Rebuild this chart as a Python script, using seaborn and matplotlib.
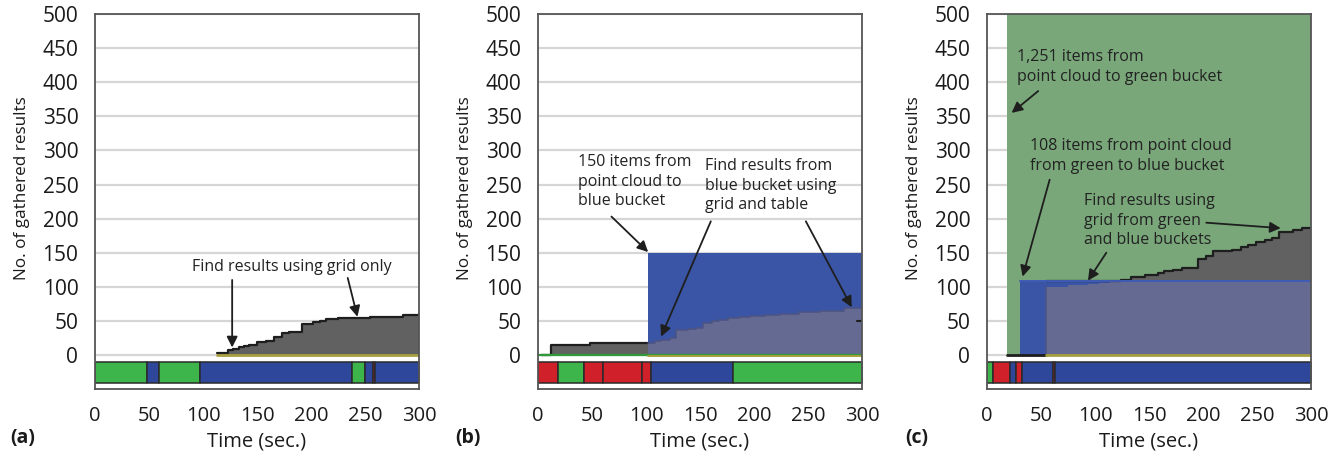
import numpy as np
import pandas as pd
import matplotlib
matplotlib.use('Agg')
import matplotlib.pyplot as plt
import seaborn as sns

# axis ticks
x_ticks = [0, 50, 100, 150, 200, 250, 300]
y_ticks = [0, 50, 100, 150, 200, 250, 300, 350, 400, 450, 500]

# (a) results found with the grid only
a_t = [113, 123, 128, 133, 138, 143, 150, 158, 166, 173, 180, 186, 192, 196, 202, 208, 214, 225, 240, 255, 270, 285, 300]
a_v = [2.5, 7, 9, 11, 13, 15, 19, 20, 26, 32, 33, 34, 45, 46, 48, 50, 53, 54, 54, 55, 56, 58, 60]

# (b) results before the blue bucket, blue bucket, results from blue bucket
b_gray_t = [3, 12, 48, 102]
b_gray_v = [0, 14.5, 18, 18]
b_blue_start = 102
b_blue_items = 150
b_t = [102, 108, 114, 122, 128, 139, 146, 153, 161, 168, 176, 186, 196, 210, 224, 242, 261, 283, 300]
b_v = [18, 20, 22, 24.5, 36, 37.7, 40, 47.5, 50, 52, 54, 55.5, 57, 58.5, 60, 62.5, 65, 68.5, 68.5]

# (c) green bucket, blue bucket, results from both
c_green_start = 18.7
c_green_items = 500
c_blue_start = 30.5
c_blue_items = 108.5
c_t = [55, 75, 93.5, 104, 113.6, 124, 133.6, 146, 158, 164, 172, 181, 195, 203, 209, 218, 227,
       235, 242, 249, 257, 264, 270.5, 283, 292, 300]
c_v = [100, 102, 104.5, 106, 108, 110, 115, 117, 120, 122.5, 125, 127.5, 140.5, 144.5, 152, 153,
       154.5, 159, 162, 165, 168, 171.5, 180, 183, 186, 186]

# state bar under each panel: segment start, end, colour key
a_seg_start = [0, 48.5, 59.5, 97.5, 238, 250, 257, 259]
a_seg_end = [48.5, 59.5, 97.5, 238, 250, 257, 259, 300]
a_seg_col = ['g', 'b', 'g', 'b', 'g', 'b', 'r', 'b']
b_seg_start = [0, 18.5, 43, 60, 96, 105, 181]
b_seg_end = [18.5, 43, 60, 96, 105, 181, 300]
b_seg_col = ['r', 'g', 'r', 'r', 'r', 'b', 'g']
c_seg_start = [0, 6, 21.5, 26.5, 32, 61, 63]
c_seg_end = [6, 21.5, 26.5, 32, 61, 63, 300]
c_seg_col = ['g', 'r', 'b', 'r', 'b', 'r', 'b']

bar_colors = {'g': '#3db54a', 'b': '#2f479b', 'r': '#d0202a'}
GRAY = '#616161'
BLUE = '#3a55a5'
PURPLE = '#656a92'
GREEN = '#79a77a'
OLIVE = '#a8a040'
EDGE = '#1e1e1e'

sns.set_theme(style='white')
plt.rcParams['font.family'] = ['Open Sans', 'DejaVu Sans']

fig = plt.figure(figsize=(13.41, 4.58), dpi=100)
W, H = 1341, 458
lefts = [95, 538, 987]
width = 324
top_px, bot_px = 14, 389
y0_px = 355
scale = (y0_px - top_px) / 500.0
ymin = -(bot_px - y0_px) / scale


def set_labels(ax):
    ax.set_xlabel('Time (sec.)', fontsize=14.5, color='#1a1a1a', labelpad=4)
    ax.set_ylabel('No. of gathered results', fontsize=12.3, color='#1a1a1a')
    # label centred on the 0-500 range, not on the whole frame
    ax.yaxis.set_label_coords(-65 / width, (bot_px - 188) / (bot_px - top_px))


axes = []
for lx in lefts:
    ax = fig.add_axes([lx / W, 1 - bot_px / H, width / W, (bot_px - top_px) / H])
    ax.set_xlim(0, 300)
    ax.set_ylim(ymin, 500)
    ax.set_xticks(x_ticks)
    ax.set_yticks(y_ticks)
    ax.grid(axis='y', color='#d6d6d6', lw=1.6, zorder=0)
    ax.set_axisbelow(True)
    ax.tick_params(axis='x', direction='in', length=6, width=1.5, color='#222222',
                   labelsize=14.5, pad=12, labelcolor='#1a1a1a')
    ax.tick_params(axis='y', length=0, labelsize=15, pad=12, labelcolor='#1a1a1a')
    for s in ax.spines.values():
        s.set_color('#555555')
        s.set_linewidth(1.3)
        s.set_zorder(6)
    axes.append(ax)


def draw_bar(ax, starts, ends, cols):
    for s, e, c in zip(starts, ends, cols):
        ax.broken_barh([(s, e - s)], (-41.5, 31), facecolors=bar_colors[c],
                       edgecolor='#2a2a2a', lw=1.1, zorder=4)


def step_edge(ax, t, v, color, lw=1.6):
    df = pd.DataFrame({'t': t, 'v': v})
    sns.lineplot(data=df, x='t', y='v', drawstyle='steps-post', color=color, lw=lw,
                 ax=ax, zorder=5, legend=False)


arrow = dict(arrowstyle='-|>', color=EDGE, lw=1.3, mutation_scale=16, shrinkA=0, shrinkB=0)
note = dict(fontsize=11.5, color='#222222', linespacing=1.3)

# ---- (a)
ax = axes[0]
ax.fill_between(a_t, 0, a_v, step='post', color=GRAY, lw=0, zorder=2)
step_edge(ax, a_t, a_v, EDGE)
ax.plot([a_t[0], 300], [0, 0], color=OLIVE, lw=2, zorder=5)
draw_bar(ax, a_seg_start, a_seg_end, a_seg_col)
ax.text(182, 129, 'Find results using grid only', ha='center', va='center', **note)
ax.annotate('', xy=(127, 11), xytext=(127, 110), arrowprops=arrow)
ax.annotate('', xy=(243, 56), xytext=(234, 113), arrowprops=arrow)

# ---- (b)
ax = axes[1]
ax.fill_between(b_gray_t, 0, b_gray_v, step='post', color=GRAY, lw=0, zorder=2)
step_edge(ax, b_gray_t, b_gray_v, EDGE)
ax.fill_between([b_blue_start, 300], 0, b_blue_items, color=BLUE, lw=0, zorder=2)
ax.fill_between(b_t, 0, b_v, step='post', color=PURPLE, lw=0, zorder=3)
step_edge(ax, b_t, b_v, '#4d5585', lw=1.2)
ax.plot([0, 300], [0, 0], color='#2f9a3a', lw=1.6, zorder=5)
ax.plot([b_blue_start, 300], [-1.5, -1.5], color=OLIVE, lw=1.4, zorder=5)
ax.plot([295, 300], [50, 50], color=EDGE, lw=1.5, zorder=5)
draw_bar(ax, b_seg_start, b_seg_end, b_seg_col)
ax.text(37, 254, '150 items from\npoint cloud to\nblue bucket', ha='left', va='center', **note)
ax.text(155, 248, 'Find results from\nblue bucket using\ngrid and table', ha='left', va='center', **note)
ax.annotate('', xy=(102, 151), xytext=(68, 203), arrowprops=arrow)
ax.annotate('', xy=(114, 27), xytext=(160, 196), arrowprops=arrow)
ax.annotate('', xy=(290.5, 70), xytext=(248, 196), arrowprops=arrow)

# ---- (c)
ax = axes[2]
ax.fill_between([c_green_start, 300], 0, c_green_items, color=GREEN, lw=0, zorder=2)
ax.fill_between([c_blue_start, 300], 0, c_blue_items, color=BLUE, lw=0, zorder=2)
c_arr = np.array(c_v)
ax.fill_between(c_t, 0, np.minimum(c_arr, c_blue_items), step='post', color=PURPLE, lw=0, zorder=3)
ax.fill_between(c_t, c_blue_items, np.maximum(c_arr, c_blue_items), step='post', color=GRAY, lw=0, zorder=3)
step_edge(ax, c_t, np.maximum(c_arr, c_blue_items), EDGE)
ax.plot([c_blue_start, 300], [c_blue_items, c_blue_items], color='#3e5cb5', lw=1.4, zorder=5)
ax.plot([c_t[0], c_t[0]], [0, c_v[0]], color='#4d5585', lw=1.2, zorder=5)
ax.plot([c_green_start, c_t[0]], [0, 0], color=EDGE, lw=2, zorder=5)
ax.plot([c_t[0], 300], [0, 0], color=OLIVE, lw=2, zorder=5)
draw_bar(ax, c_seg_start, c_seg_end, c_seg_col)
ax.text(28, 422, '1,251 items from\npoint cloud to green bucket', ha='left', va='center', **note)
ax.text(40, 292, '108 items from point cloud\nfrom green to blue bucket', ha='left', va='center', **note)
ax.text(90, 197, 'Find results using\ngrid from green\nand blue buckets', ha='left', va='center', **note)
ax.annotate('', xy=(22.8, 355), xytext=(47.4, 387), arrowprops=arrow)
ax.annotate('', xy=(33, 115), xytext=(58, 257), arrowprops=arrow)
ax.annotate('', xy=(93.5, 109), xytext=(110.5, 150), arrowprops=arrow)
ax.annotate('', xy=(272, 186), xytext=(203, 194), arrowprops=arrow)

for ax in axes:
    set_labels(ax)

# panel letters
for lx, lab in zip([10, 455, 905], ['(a)', '(b)', '(c)']):
    fig.text(lx / W, 1 - 438 / H, lab, fontsize=14, fontweight='bold', color='#1a1a1a',
             ha='left', va='center')

fig.savefig('out.png', dpi=100)
